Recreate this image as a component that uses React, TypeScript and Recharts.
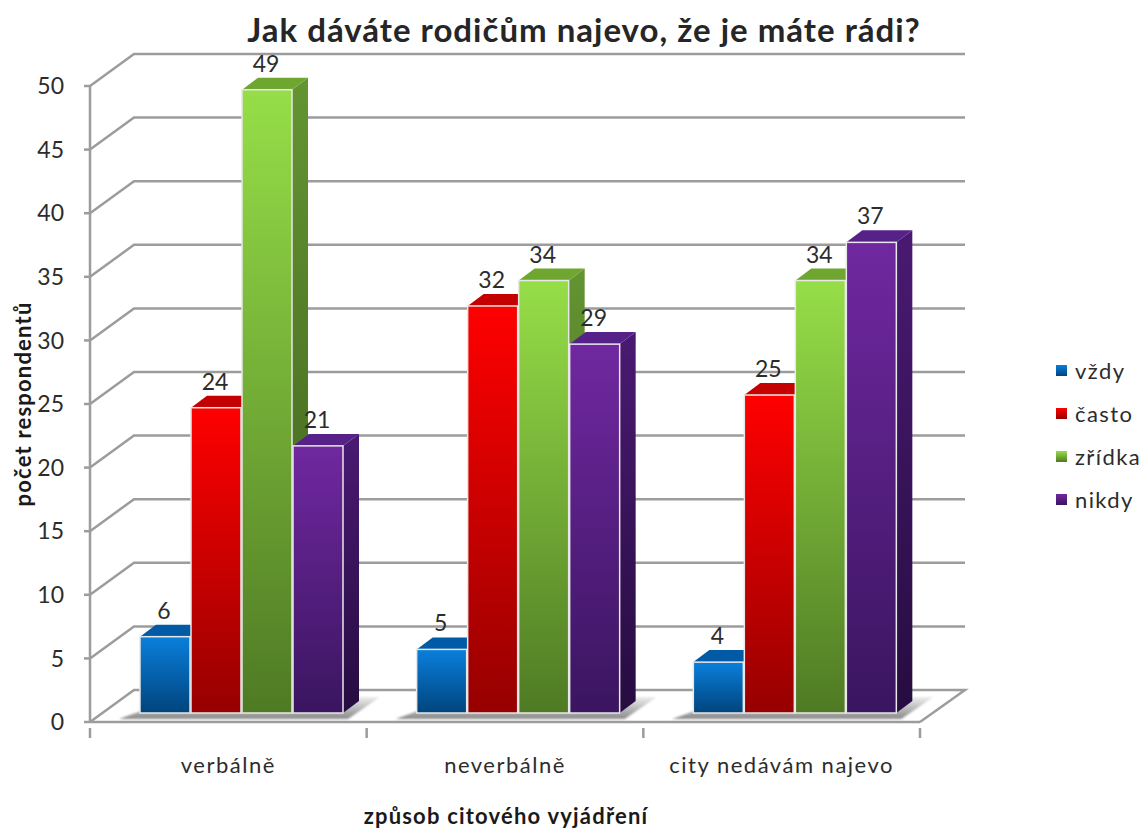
import { BarChart, Bar, XAxis, YAxis, CartesianGrid, Legend, LabelList } from 'recharts';

const categories = ['verbálně', 'neverbálně', 'city nedávám najevo'];
const vzdy = [6, 5, 4];
const casto = [24, 32, 25];
const zridka = [49, 34, 34];
const nikdy = [21, 29, 37];
const yTicks = [0, 5, 10, 15, 20, 25, 30, 35, 40, 45, 50];

const data = categories.map((name, i) => ({
  name,
  vzdy: vzdy[i],
  casto: casto[i],
  zridka: zridka[i],
  nikdy: nikdy[i],
}));

const FONT = 'Lato, sans-serif';
const TEXT = '#2c2c2c';
const GRID = '#9c9c9c';

// the fake 3D: wall sits behind the axes, bars stand halfway in
const WALL_DX = 44;
const WALL_DY = 32;
const BAR_DX = 13;
const BAR_DY = 9;
const SIDE_DX = 16;
const SIDE_DY = 12;
const CAT_W = 830 / 3;

const seriesStyle = [
  { key: 'vzdy', name: 'vždy', top: '#0a7fdc', bottom: '#00447c', roof: '#005aa5', sideTop: '#00508f', sideBottom: '#00335f' },
  { key: 'casto', name: 'často', top: '#ff0000', bottom: '#960000', roof: '#c40000', sideTop: '#b00000', sideBottom: '#6e0000' },
  { key: 'zridka', name: 'zřídka', top: '#96de48', bottom: '#4f7a24', roof: '#6ea630', sideTop: '#649432', sideBottom: '#3c5e1a' },
  { key: 'nikdy', name: 'nikdy', top: '#7028a0', bottom: '#3a1560', roof: '#56228a', sideTop: '#4a1a72', sideBottom: '#260c40' },
];

const makeBarShape = (index: number) => (props: any) => {
  const { x, y, width, height } = props;
  const left = x + BAR_DX;
  const top = y - BAR_DY;
  const right = left + width;
  const bottom = top + height;
  return (
    <g>
      <polygon
        points={`${right},${top} ${right + SIDE_DX},${top - SIDE_DY} ${right + SIDE_DX},${bottom - SIDE_DY} ${right},${bottom}`}
        fill={`url(#side-${index})`}
      />
      <polygon
        points={`${left},${top} ${left + SIDE_DX},${top - SIDE_DY} ${right + SIDE_DX},${top - SIDE_DY} ${right},${top}`}
        fill={seriesStyle[index].roof}
      />
      <rect x={left} y={top} width={width} height={height} fill={`url(#face-${index})`} stroke="#e8e8e8" strokeWidth={1.5} />
    </g>
  );
};

const renderValueLabel = (props: any) => {
  const { x, y, width, value } = props;
  return (
    <text x={x + width / 2 + BAR_DX - 1} y={y - BAR_DY - 18} textAnchor="middle" fontFamily={FONT} fontSize={23} fill={TEXT}>
      {value}
    </text>
  );
};

// one grid level: stub going back from the axis, then the line along the wall
const renderGridLine = (props: any) => {
  const { x1, x2, y1, key } = props;
  const back = y1 - WALL_DY;
  const isFloor = Math.abs(y1 - 722) < 1;
  return (
    <g key={key}>
      {isFloor &&
        categories.map((c, i) => {
          const l = x1 + CAT_W * i + 51;
          const r = l + 201;
          return (
            <polygon
              key={c}
              points={`${l - 22},${y1 - 3} ${l},${y1 - 11} ${r + 16},${y1 - 25} ${r + 38},${y1 - 25} ${r + 6},${y1 - 3}`}
              fill="url(#floorShadow)"
              filter="url(#soft)"
            />
          );
        })}
      <path
        d={`M${x1},${y1} L${x1 + WALL_DX},${back} L${x2 + WALL_DX + 1},${back}${isFloor ? ` L${x2},${y1}` : ''}`}
        fill="none"
        stroke={GRID}
        strokeWidth={2.5}
      />
    </g>
  );
};

const renderXTick = (props: any) => {
  const { x, y, payload, index } = props;
  const left = x - CAT_W / 2;
  return (
    <g>
      <line x1={left} y1={y - 2} x2={left} y2={y + 8} stroke={GRID} strokeWidth={2.5} />
      {index === categories.length - 1 && (
        <line x1={left + CAT_W} y1={y - 2} x2={left + CAT_W} y2={y + 8} stroke={GRID} strokeWidth={2.5} />
      )}
      <text x={x} y={y + 43} textAnchor="middle" fontFamily={FONT} fontSize={22} letterSpacing={1.5} fill={TEXT}>
        {payload.value}
      </text>
    </g>
  );
};

const renderLegend = () => (
  <div style={{ fontFamily: FONT, fontSize: 22, letterSpacing: 1.4, color: TEXT }}>
    {seriesStyle.map((s) => (
      <div key={s.key} style={{ display: 'flex', alignItems: 'center', height: 43 }}>
        <span
          style={{
            width: 11,
            height: 11,
            marginRight: 8,
            background: `linear-gradient(${s.top}, ${s.bottom})`,
          }}
        />
        {s.name}
      </div>
    ))}
  </div>
);

const App = () => {
  return (
    <div style={{ position: 'absolute', left: 0, top: 0, width: 1142, height: 829, background: '#fff' }}>
      <div
        style={{
          position: 'absolute',
          left: 147,
          width: 874,
          top: 10,
          textAlign: 'center',
          fontFamily: FONT,
          fontWeight: 700,
          fontSize: 33,
          letterSpacing: 1,
          lineHeight: '38px',
          color: '#262626',
        }}
      >
        Jak dáváte rodičům najevo, že je máte rádi?
      </div>
      <BarChart
        width={1142}
        height={829}
        data={data}
        margin={{ top: 86, right: 136, bottom: 0, left: 0 }}
        barSize={50}
        barGap={1}
      >
        <defs>
          {seriesStyle.map((s, i) => (
            <linearGradient key={`face-${i}`} id={`face-${i}`} x1="0" y1="0" x2="0" y2="1">
              <stop offset="0%" stopColor={s.top} />
              <stop offset="100%" stopColor={s.bottom} />
            </linearGradient>
          ))}
          {seriesStyle.map((s, i) => (
            <linearGradient key={`side-${i}`} id={`side-${i}`} x1="0" y1="0" x2="0" y2="1">
              <stop offset="0%" stopColor={s.sideTop} />
              <stop offset="100%" stopColor={s.sideBottom} />
            </linearGradient>
          ))}
          <linearGradient id="floorShadow" x1="0" y1="1" x2="0" y2="0">
            <stop offset="0%" stopColor="#8a8a8a" />
            <stop offset="100%" stopColor="#eeeeee" />
          </linearGradient>
          <filter id="soft" x="-10%" y="-50%" width="120%" height="200%">
            <feGaussianBlur stdDeviation="1" />
          </filter>
        </defs>
        <CartesianGrid vertical={false} horizontal={renderGridLine} />
        <XAxis
          dataKey="name"
          height={107}
          axisLine={{ stroke: GRID, strokeWidth: 2.5 }}
          tickLine={false}
          interval={0}
          tick={renderXTick}
          label={(p: any) => (
            <text
              x={p.viewBox.x + p.viewBox.width / 2 + 1}
              y={824}
              textAnchor="middle"
              fontFamily={FONT}
              fontWeight={700}
              fontSize={22}
              letterSpacing={1.2}
              fill="#1a1a1a"
            >
              způsob citového vyjádření
            </text>
          )}
        />
        <YAxis
          width={90}
          domain={[0, 50]}
          ticks={yTicks}
          interval={0}
          axisLine={{ stroke: GRID, strokeWidth: 2.5 }}
          tickLine={{ stroke: GRID, strokeWidth: 2.5 }}
          tickSize={6}
          tickMargin={20}
          tick={{ fill: TEXT, fontSize: 23, fontFamily: FONT }}
          label={(p: any) => (
            <text
              x={31}
              y={p.viewBox.y + p.viewBox.height / 2}
              transform={`rotate(-90 31 ${p.viewBox.y + p.viewBox.height / 2})`}
              textAnchor="middle"
              fontFamily={FONT}
              fontWeight={700}
              fontSize={22}
              letterSpacing={1.2}
              fill="#1a1a1a"
            >
              počet respondentů
            </text>
          )}
        />
        <Legend
          layout="vertical"
          align="right"
          verticalAlign="top"
          width={86}
          content={renderLegend}
          wrapperStyle={{ position: 'absolute', left: 1056, top: 349, width: 86 }}
        />
        {seriesStyle.map((s, i) => (
          <Bar key={s.key} dataKey={s.key} name={s.name} fill={s.top} shape={makeBarShape(i)} isAnimationActive={false}>
            <LabelList dataKey={s.key} content={renderValueLabel} />
          </Bar>
        ))}
      </BarChart>
    </div>
  );
};

export default App;
